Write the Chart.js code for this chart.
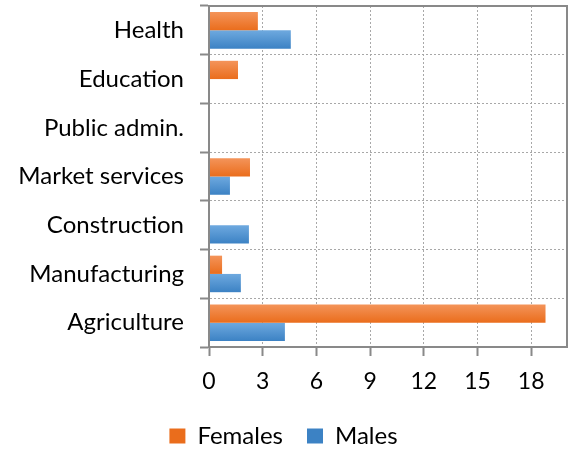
<!DOCTYPE html>
<html>
<head>
<meta charset="utf-8">
<script src="https://cdn.jsdelivr.net/npm/chart.js@4/dist/chart.umd.min.js"></script>
<style>
  html, body { margin: 0; padding: 0; background: #fff; }
  #wrap { width: 568px; height: 453px; }
</style>
</head>
<body>
<div id="wrap"><canvas id="chart" width="568" height="453"></canvas></div>
<script>
const categories = ['Health', 'Education', 'Public admin.', 'Market services', 'Construction', 'Manufacturing', 'Agriculture'];
const females = [2.73, 1.62, 0, 2.29, 0, 0.73, 18.8];
const males = [4.57, 0, 0, 1.17, 2.23, 1.78, 4.24];
const xTicksMax = 20;
const xStep = 3;

const FONT = 'Lato, "Open Sans", sans-serif';
const axisGray = '#898989';
const gridGray = '#a8a8a8';

// vertical shading inside each bar (light top, darker bottom)
const shade = (top, bottom) => (context) => {
  const el = context.element;
  if (!el || !el.height || !isFinite(el.y)) return bottom;
  const g = context.chart.ctx.createLinearGradient(0, el.y - el.height / 2, 0, el.y + el.height / 2);
  g.addColorStop(0, top);
  g.addColorStop(1, bottom);
  return g;
};

// frame round the plot area
const frame = {
  id: 'frame',
  afterDatasetsDraw(chart) {
    const {ctx, chartArea: a} = chart;
    ctx.save();
    ctx.strokeStyle = axisGray;
    ctx.lineWidth = 2;
    ctx.strokeRect(a.left, a.top, a.right - a.left, a.bottom - a.top);
    ctx.restore();
  }
};

const chart = new Chart(document.getElementById('chart'), {
  type: 'bar',
  data: {
    labels: categories,
    datasets: [
      {label: 'Females', data: females, backgroundColor: shade('#f4945a', '#ea6d1c')},
      {label: 'Males', data: males, backgroundColor: shade('#6ea9df', '#3c82c4')}
    ]
  },
  options: {
    indexAxis: 'y',
    responsive: false,
    animation: false,
    categoryPercentage: 0.75,
    barPercentage: 1,
    layout: {padding: {top: 6, right: 1, left: 0, bottom: -5}},
    scales: {
      x: {
        min: 0,
        max: xTicksMax,
        ticks: {stepSize: xStep, includeBounds: false, color: '#000', font: {family: FONT, size: 23}, padding: 12},
        grid: {color: gridGray, tickColor: axisGray, tickWidth: 2, tickLength: 9, tickBorderDash: []},
        border: {color: axisGray, width: 2, dash: [2, 2]},
        afterFit: (s) => { s.height = 53; }
      },
      y: {
        ticks: {color: '#000', font: {family: FONT, size: 24}, padding: 16},
        grid: {color: gridGray, tickColor: axisGray, tickWidth: 2, tickLength: 9, tickBorderDash: []},
        border: {color: axisGray, width: 2, dash: [2, 2]},
        afterFit: (s) => { s.width = 209; s.paddingTop = 0; s.paddingBottom = 0; }
      }
    },
    plugins: {
      tooltip: {enabled: false},
      legend: {
        position: 'bottom',
        labels: {
          boxWidth: 16,
          boxHeight: 15,
          color: '#000',
          padding: 24,
          font: {family: FONT, size: 24}
        }
      }
    }
  },
  plugins: [frame]
});
// second pass so the gradients know where each bar sits
chart.update();
</script>
</body>
</html>
